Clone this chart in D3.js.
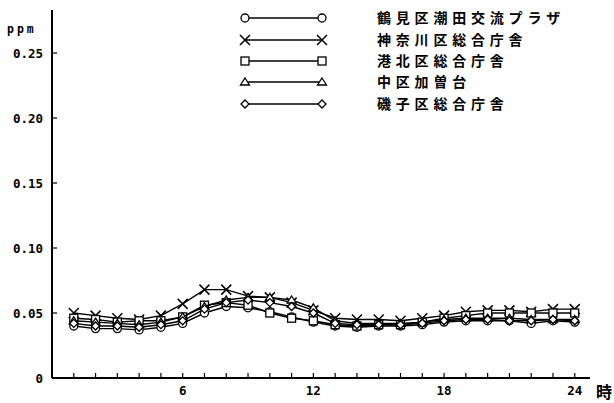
<!DOCTYPE html>
<html><head><meta charset="utf-8">
<script src="https://cdn.jsdelivr.net/npm/d3@7/dist/d3.min.js"></script>
<style>body{margin:0;background:#fff}svg{display:block}</style>
</head><body>
<script>
const hours = d3.range(1, 25);
const seriesNames = ["鶴見区潮田交流プラザ","神奈川区総合庁舎","港北区総合庁舎","中区加曽台","磯子区総合庁舎"];
const markerTypes = ["circle","cross","square","triangle","diamond"];
const tsurumi  = [0.040,0.038,0.038,0.037,0.039,0.042,0.050,0.055,0.054,0.051,0.047,0.043,0.040,0.039,0.040,0.040,0.041,0.043,0.044,0.044,0.044,0.042,0.044,0.043];
const kanagawa = [0.050,0.048,0.046,0.045,0.048,0.057,0.068,0.068,0.063,0.062,0.058,0.052,0.046,0.045,0.045,0.044,0.046,0.048,0.051,0.052,0.052,0.051,0.053,0.053];
const kohoku   = [0.046,0.045,0.043,0.044,0.044,0.047,0.056,0.058,0.056,0.050,0.046,0.044,0.041,0.040,0.041,0.041,0.043,0.046,0.048,0.050,0.050,0.050,0.050,0.050];
const nakaku   = [0.044,0.043,0.042,0.041,0.043,0.047,0.055,0.060,0.062,0.062,0.060,0.054,0.044,0.042,0.042,0.042,0.043,0.045,0.046,0.046,0.046,0.045,0.045,0.045];
const isogo    = [0.042,0.040,0.040,0.039,0.041,0.044,0.053,0.058,0.060,0.058,0.055,0.050,0.042,0.041,0.041,0.041,0.042,0.044,0.045,0.045,0.044,0.044,0.045,0.044];
const allSeries = [tsurumi, kanagawa, kohoku, nakaku, isogo];
const yTicks = [0, 0.05, 0.10, 0.15, 0.20, 0.25];
const yTickLabels = ["0","0.05","0.10","0.15","0.20","0.25"];
const xLabelTicks = [6, 12, 18, 24];

const W = 614, H = 403;
const svg = d3.select("body").append("svg").attr("width", W).attr("height", H);
const x = d3.scaleLinear().domain([0, 24.7]).range([52, 590]);
const y = d3.scaleLinear().domain([0, 0.25]).range([378, 53]);
const mono = "'DejaVu Sans Mono', 'Liberation Mono', monospace";

// axes lines
svg.append("line").attr("x1", 52).attr("x2", 52).attr("y1", 10).attr("y2", 378).attr("stroke", "#000").attr("stroke-width", 2);
svg.append("line").attr("x1", 52).attr("x2", x(24.7)).attr("y1", 378).attr("y2", 378).attr("stroke", "#000").attr("stroke-width", 2);

// y ticks
svg.selectAll(".yt").data(yTicks.slice(1)).enter().append("line")
  .attr("x1", 52).attr("x2", 57).attr("y1", d => y(d)).attr("y2", d => y(d)).attr("stroke", "#000").attr("stroke-width", 1.2);
svg.selectAll(".yl").data(yTicks).enter().append("text")
  .attr("x", 43).attr("y", d => y(d) + 4.5).attr("text-anchor", "end")
  .attr("font-family", mono).attr("font-weight", "bold").attr("font-size", 12.5)
  .text((d, i) => yTickLabels[i]);
svg.append("text").attr("x", 7).attr("y", 33).attr("font-family", mono).attr("font-weight", "bold")
  .attr("font-size", 11.5).attr("letter-spacing", 3).text("ppm");

// x ticks
svg.selectAll(".xt").data(hours).enter().append("line")
  .attr("x1", d => x(d)).attr("x2", d => x(d)).attr("y1", 378).attr("y2", 373).attr("stroke", "#000").attr("stroke-width", 1.2);
svg.selectAll(".xl").data(xLabelTicks).enter().append("text")
  .attr("x", d => x(d)).attr("y", 395).attr("text-anchor", "middle")
  .attr("font-family", mono).attr("font-weight", "bold").attr("font-size", 12.5).text(d => d);
svg.append("text").attr("x", 596).attr("y", 398).attr("font-family", "'Noto Sans CJK JP'").attr("font-weight", "bold")
  .attr("font-size", 16).text("時");

function marker(g, type, cx, cy) {
  const s = 4;
  if (type === "circle") {
    g.append("circle").attr("cx", cx).attr("cy", cy).attr("r", s).attr("fill", "#fff").attr("stroke", "#000").attr("stroke-width", 1.3);
  } else if (type === "cross") {
    g.append("path").attr("d", `M${cx-s-1},${cy-s-1}L${cx+s+1},${cy+s+1}M${cx-s-1},${cy+s+1}L${cx+s+1},${cy-s-1}`).attr("stroke", "#000").attr("stroke-width", 1.5).attr("fill", "none");
  } else if (type === "square") {
    g.append("rect").attr("x", cx - s).attr("y", cy - s).attr("width", 2*s).attr("height", 2*s).attr("fill", "#fff").attr("stroke", "#000").attr("stroke-width", 1.3);
  } else if (type === "triangle") {
    g.append("path").attr("d", `M${cx},${cy-s}L${cx+s+0.5},${cy+s-1}L${cx-s-0.5},${cy+s-1}Z`).attr("fill", "#fff").attr("stroke", "#000").attr("stroke-width", 1.3);
  } else {
    g.append("path").attr("d", `M${cx},${cy-s}L${cx+s},${cy}L${cx},${cy+s}L${cx-s},${cy}Z`).attr("fill", "#fff").attr("stroke", "#000").attr("stroke-width", 1.3);
  }
}

const line = d3.line().x((d, i) => x(hours[i])).y(d => y(d));
allSeries.forEach((vals, k) => {
  const g = svg.append("g");
  g.append("path").attr("d", line(vals)).attr("fill", "none").attr("stroke", "#000").attr("stroke-width", 1.4);
  vals.forEach((v, i) => marker(g, markerTypes[k], x(hours[i]), y(v)));
});

// legend
const legY = [18, 40, 61, 82, 104];
seriesNames.forEach((name, k) => {
  const g = svg.append("g");
  g.append("line").attr("x1", 245).attr("x2", 322).attr("y1", legY[k]).attr("y2", legY[k]).attr("stroke", "#000").attr("stroke-width", 1.4);
  marker(g, markerTypes[k], 245, legY[k]);
  marker(g, markerTypes[k], 322, legY[k]);
  g.append("text").attr("x", 377).attr("y", legY[k] + 5).attr("font-family", "'Noto Sans CJK JP'")
    .attr("font-weight", "bold").attr("font-size", 14).attr("letter-spacing", 4.8).text(name);
});
</script>
</body></html>
